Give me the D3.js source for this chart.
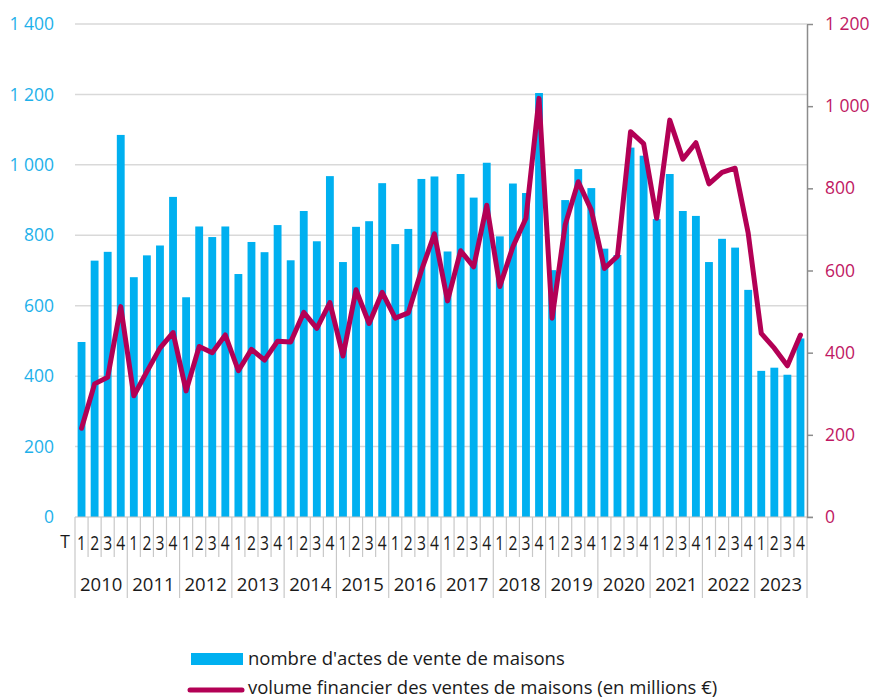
<!DOCTYPE html>
<html><head><meta charset="utf-8">
<script src="https://cdn.jsdelivr.net/npm/d3@7"></script>
<style>
html,body{margin:0;padding:0;background:#fff;}
svg{display:block;font-family:"Open Sans",sans-serif;}
</style></head>
<body>
<svg id="chart" width="875" height="699"></svg>
<script>
const years = [2010,2011,2012,2013,2014,2015,2016,2017,2018,2019,2020,2021,2022,2023];
const quarterLabels = ["1","2","3","4"];
const categories = years.flatMap(y => quarterLabels.map(q => y + "T" + q));
const nombreActes = [497,728,753,1085, 681,743,771,909, 624,825,795,825, 690,781,752,829,
  729,869,783,968, 724,824,840,948, 775,818,960,967, 754,974,907,1006,
  797,947,920,1204, 701,900,988,934, 762,744,1049,1026, 846,974,869,855,
  724,790,765,645, 415,424,404,507];
const volumeFinancier = [216,324,340,512, 295,354,411,449, 307,415,400,443, 356,408,382,428,
  426,498,459,522, 392,553,471,547, 484,497,600,689, 526,648,609,759,
  561,658,727,1019, 484,711,816,747, 605,635,938,909, 727,966,871,911,
  811,839,849,691, 447,411,368,443];
const leftTicks = [0,200,400,600,800,1000,1200,1400];
const rightTicks = [0,200,400,600,800,1000,1200];
const legendLabels = ["nombre d'actes de vente de maisons","volume financier des ventes de maisons (en millions €)"];

const BAR = "#00b0f0", LINE = "#b30055", LEFTTXT = "#1eb1ea", RIGHTTXT = "#c01863";
const svg = d3.select("#chart");
const L = 75, R = 807, T = 24, B = 517;

const x = d3.scaleBand().domain(categories).range([L, R]).paddingInner(0.4).paddingOuter(0.2);
const yL = d3.scaleLinear().domain([0,1400]).range([B, T]);
const yR = d3.scaleLinear().domain([0,1200]).range([B, T]);
const fmt = d => d >= 1000 ? d3.format(",")(d).replace(",", " ") : String(d);

// gridlines
svg.append("g").selectAll("line").data(leftTicks.filter(d => d > 0)).join("line")
  .attr("x1", L).attr("x2", R).attr("y1", d => yL(d)).attr("y2", d => yL(d))
  .attr("stroke", "#d9d9d9").attr("stroke-width", 1.5);

// left axis (labels only)
const gl = svg.append("g").attr("transform", `translate(${L},0)`)
  .call(d3.axisLeft(yL).tickValues(leftTicks).tickFormat(fmt).tickSize(0).tickPadding(21));
gl.select(".domain").remove();
gl.selectAll("text").attr("fill", LEFTTXT).style("font-size", "17.5px").style("font-family", "Open Sans");

// bars
svg.append("g").selectAll("rect").data(categories).join("rect")
  .attr("x", d => x(d)).attr("width", x.bandwidth())
  .attr("y", (d, i) => yL(nombreActes[i])).attr("height", (d, i) => B - yL(nombreActes[i]))
  .attr("fill", BAR);

// baseline
svg.append("line").attr("x1", L).attr("x2", R + 6).attr("y1", B).attr("y2", B)
  .attr("stroke", "#bfbfbf").attr("stroke-width", 1.2);

// x axis separators
const step = x.step();
const sepX = i => L + i * step;
const seps = d3.range(categories.length + 1);
svg.append("g").selectAll("line").data(seps).join("line")
  .attr("x1", i => sepX(i)).attr("x2", i => sepX(i))
  .attr("y1", B).attr("y2", i => (i % 4 === 0) ? 598 : 557)
  .attr("stroke", "#c8c8c8").attr("stroke-width", 1.2);

// quarter labels
svg.append("g").selectAll("text").data(categories).join("text")
  .attr("transform", d => `translate(${x(d) + x.bandwidth()/2},550) scale(0.8,1)`)
  .attr("text-anchor", "middle").style("font-size", "19.5px").attr("fill", "#1a1a1a")
  .text(d => d.split("T")[1]);
svg.append("text").attr("x", 65).attr("y", 548).attr("text-anchor", "middle")
  .style("font-size", "17.5px").attr("fill", "#1a1a1a").text("T");

// year labels
svg.append("g").selectAll("text").data(years).join("text")
  .attr("x", (d, i) => sepX(i * 4) + step * 2).attr("y", 591)
  .attr("text-anchor", "middle").style("font-size", "18.5px").attr("fill", "#1a1a1a")
  .text(d => d);

// right axis
const gr = svg.append("g").attr("transform", `translate(${R},0)`)
  .call(d3.axisRight(yR).tickValues(rightTicks).tickFormat(fmt).tickSize(6).tickSizeOuter(0).tickPadding(12));
gr.select(".domain").attr("stroke", "#8c8c8c").attr("stroke-width", 1.5);
gr.selectAll(".tick line").attr("stroke", "#8c8c8c").attr("stroke-width", 1.5);
gr.selectAll("text").attr("fill", RIGHTTXT).style("font-size", "17.5px").style("font-family", "Open Sans");

// line
const line = d3.line().x((d, i) => x(categories[i]) + x.bandwidth()/2).y(d => yR(d));
svg.append("path").datum(volumeFinancier).attr("d", line)
  .attr("fill", "none").attr("stroke", LINE).attr("stroke-width", 5)
  .attr("stroke-linejoin", "round").attr("stroke-linecap", "round");

// legend
const lg = svg.append("g");
lg.append("rect").attr("x", 191).attr("y", 653).attr("width", 52).attr("height", 12).attr("fill", BAR);
lg.append("text").attr("x", 248).attr("y", 665).style("font-size", "18.5px").attr("fill", "#1a1a1a").text(legendLabels[0]);
lg.append("line").attr("x1", 190).attr("x2", 242).attr("y1", 690).attr("y2", 690)
  .attr("stroke", LINE).attr("stroke-width", 5).attr("stroke-linecap", "round");
lg.append("text").attr("x", 248).attr("y", 694).style("font-size", "18.5px").attr("fill", "#1a1a1a").text(legendLabels[1]);
</script>
</body></html>
